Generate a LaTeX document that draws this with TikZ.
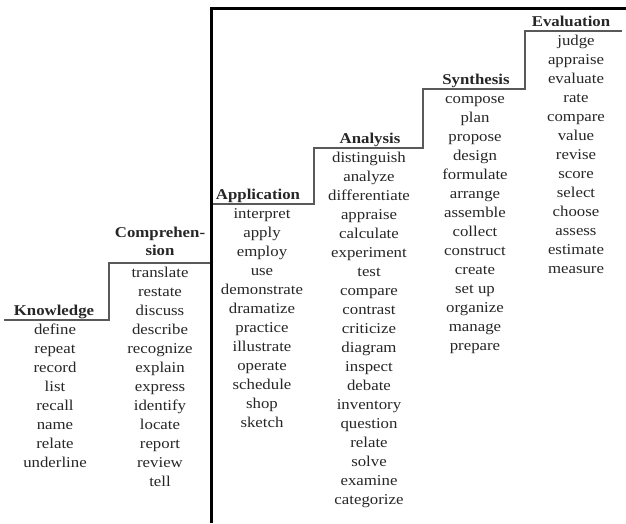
\documentclass[tikz,border=0pt]{standalone}
\usepackage{fontspec}
\setmainfont{Liberation Serif}[FakeStretch=1.12]
\begin{document}
\begin{tikzpicture}[x=1pt,y=-1pt,
  word/.style={inner sep=0pt,anchor=base,text=black!85,
    font=\fontsize{15}{19}\selectfont},
  head/.style={word,font=\fontsize{15}{19}\selectfont\bfseries},
  stair/.style={draw=black!65,line width=1.5pt},
  frame/.style={draw=black,line width=3pt}]

  \useasboundingbox (0,0) rectangle (626,523);

  % Step heights
  \def\kn{320}
  \def\co{263}
  \def\ap{204}
  \def\an{148}
  \def\sy{89}
  \def\ev{31}

  % Stairs
  \coordinate (kn-l) at (4,\kn);
  \coordinate (kn-r) at (109,\kn);
  \coordinate (co-l) at (109,\co);
  \coordinate (co-r) at (211,\co);
  \coordinate (ap-l) at (211,\ap);
  \coordinate (ap-r) at (314,\ap);
  \coordinate (an-l) at (314,\an);
  \coordinate (an-r) at (423,\an);
  \coordinate (sy-l) at (423,\sy);
  \coordinate (sy-r) at (525,\sy);
  \coordinate (ev-l) at (525,\ev);
  \coordinate (ev-r) at (622,\ev);

  \draw[stair] (kn-l) -- (kn-r) -- (co-l) -- (co-r) -- (ap-l) -- (ap-r)
    -- (an-l) -- (an-r) -- (sy-l) -- (sy-r) -- (ev-l) -- (ev-r);

  % Frame
  \coordinate (f-b) at (211,523);
  \coordinate (f-c) at (211,8);
  \coordinate (f-r) at (626,8);
  \draw[frame] (f-b) -- (f-c) -- (f-r);

  % Knowledge
  \node[head] (know) at (54,\kn-5) {Knowledge};
  \foreach \w [count=\i] in {define,repeat,record,list,recall,name,relate,
    underline}
    \node[word] (know-\i) at (55,\kn+14+19*\i-19) {\w};

  % Comprehension
  \node[head] (comp) at (160,\co-26) {Comprehen-};
  \node[head] (comp-b) at (160,\co-8) {sion};
  \foreach \w [count=\i] in {translate,restate,discuss,describe,recognize,
    explain,express,identify,locate,report,review,tell}
    \node[word] (comp-\i) at (160,\co+14+19*\i-19) {\w};

  % Application
  \node[head] (appl) at (258,\ap-5) {Application};
  \foreach \w [count=\i] in {interpret,apply,employ,use,demonstrate,
    dramatize,practice,illustrate,operate,schedule,shop,sketch}
    \node[word] (appl-\i) at (262,\ap+14+19*\i-19) {\w};

  % Analysis
  \node[head] (anal) at (370,\an-5) {Analysis};
  \foreach \w [count=\i] in {distinguish,analyze,differentiate,appraise,
    calculate,experiment,test,compare,contrast,criticize,diagram,inspect,
    debate,inventory,question,relate,solve,examine,categorize}
    \node[word] (anal-\i) at (369,\an+14+19*\i-19) {\w};

  % Synthesis
  \node[head] (synt) at (476,\sy-5) {Synthesis};
  \foreach \w [count=\i] in {compose,plan,propose,design,formulate,arrange,
    assemble,collect,construct,create,set up,organize,manage,prepare}
    \node[word] (synt-\i) at (475,\sy+14+19*\i-19) {\w};

  % Evaluation
  \node[head] (eval) at (571,\ev-5) {Evaluation};
  \foreach \w [count=\i] in {judge,appraise,evaluate,rate,compare,value,
    revise,score,select,choose,assess,estimate,measure}
    \node[word] (eval-\i) at (576,\ev+14+19*\i-19) {\w};

\end{tikzpicture}
\end{document}
